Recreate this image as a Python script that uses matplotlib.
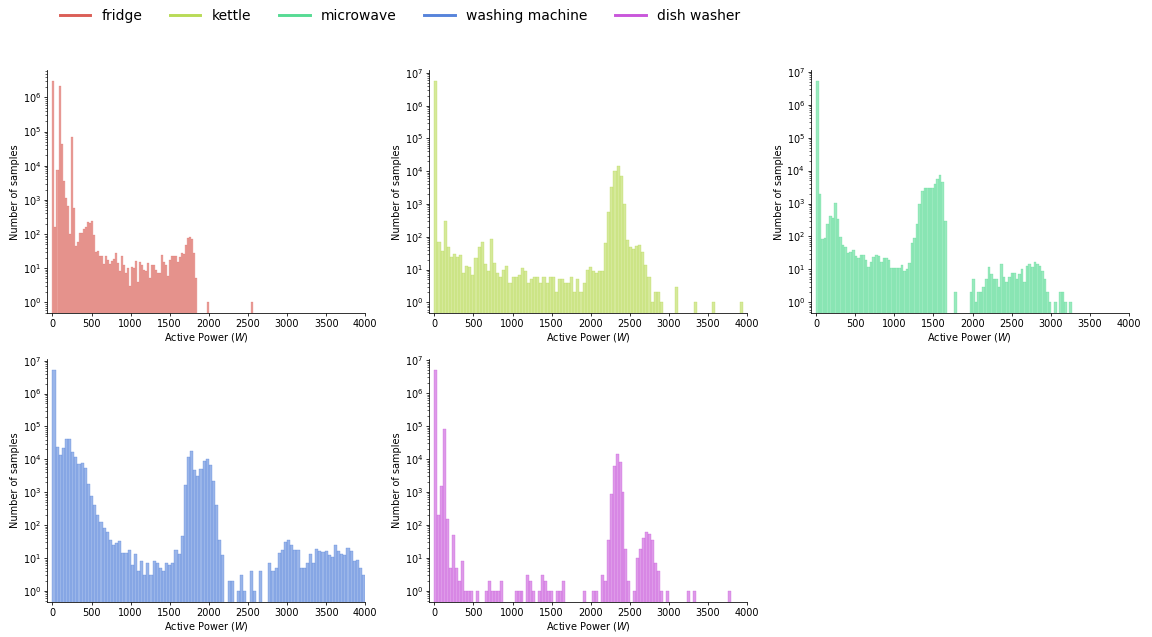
import numpy as np
import matplotlib
matplotlib.use("Agg")
import matplotlib.pyplot as plt
import seaborn as sns
from matplotlib.colors import to_rgba
from matplotlib.lines import Line2D

appliances = ["fridge", "kettle", "microwave", "washing machine", "dish washer"]

# every histogram uses 100 equal bins from 0 W up to the appliance's max reading
max_power = [2570, 3950, 3270, 4000, 3800]

fridge_counts = [
    3e6, 160, 7500, 2.2e6, 43000, 3500, 1100, 650, 100, 70000,
    580, 45, 58, 110, 110, 140, 160, 220, 210, 240,
    95, 30, 32, 22, 22, 13, 22, 17, 13, 16,
    18, 28, 14, 8, 22, 12, 7, 10, 3, 11,
    10, 16, 4, 15, 12, 9, 8, 14, 5, 12,
    12, 9, 7, 7, 24, 15, 12, 6, 17, 22,
    22, 22, 15, 21, 28, 26, 48, 76, 81, 70,
    28, 5, 0, 0, 0, 0, 0, 1, 0, 0,
    0, 0, 0, 0, 0, 0, 0, 0, 0, 0,
    0, 0, 0, 0, 0, 0, 0, 0, 0, 1,
]

kettle_counts = [
    5.6e6, 69, 37, 300, 49, 24, 30, 24, 28, 8,
    13, 12, 7, 22, 49, 69, 15, 9, 85, 16,
    8, 6, 10, 13, 4, 6, 6, 7, 11, 9,
    4, 5, 6, 6, 4, 6, 4, 6, 6, 2,
    5, 5, 4, 4, 6, 2, 5, 2, 4, 10,
    12, 9, 8, 9, 9, 64, 560, 3300, 10000, 14000,
    7000, 1000, 80, 49, 42, 52, 56, 34, 14, 6,
    1, 2, 2, 1, 0, 0, 0, 0, 3, 0,
    0, 0, 0, 0, 1, 0, 0, 0, 0, 0,
    1, 0, 0, 0, 0, 0, 0, 0, 0, 1,
]

microwave_counts = [
    5.2e6, 2000, 85, 91, 245, 430, 370, 1070, 350, 98,
    56, 49, 32, 34, 39, 26, 22, 28, 28, 19,
    12, 17, 24, 28, 26, 17, 22, 22, 19, 11,
    11, 11, 11, 14, 9, 10, 16, 64, 91, 245,
    1000, 2450, 3000, 3000, 3000, 2900, 3800, 5700, 7600, 4400,
    300, 0, 0, 0, 2, 0, 0, 0, 0, 0,
    2, 5, 1, 2, 2, 3, 5, 12, 7, 5,
    5, 3, 15, 6, 4, 6, 8, 8, 5, 7,
    10, 4, 13, 15, 12, 17, 15, 13, 9, 5,
    2, 1, 0, 1, 0, 2, 2, 1, 0, 1,
]

washing_machine_counts = [
    5.3e6, 24000, 14000, 22000, 42000, 42000, 17000, 12000, 7300, 7800,
    5500, 1800, 770, 410, 200, 125, 81, 61, 35, 25,
    28, 33, 14, 14, 17, 6, 13, 4, 8, 3,
    7, 3, 8, 7, 5, 4, 7, 6, 7, 17,
    13, 46, 1660, 12000, 18000, 4800, 3100, 5100, 9000, 10000,
    6800, 2200, 410, 35, 12, 0, 2, 2, 0, 1,
    3, 1, 0, 4, 1, 0, 4, 0, 0, 7,
    4, 5, 14, 17, 30, 35, 25, 17, 17, 5,
    5, 7, 13, 7, 19, 16, 15, 16, 12, 11,
    25, 16, 13, 12, 20, 16, 8, 9, 5, 3,
]

dish_washer_counts = [
    5.1e6, 200, 1550, 83000, 155, 5, 48, 5, 2, 8,
    1, 1, 1, 0, 1, 0, 0, 1, 2, 1,
    1, 1, 2, 0, 0, 0, 0, 1, 1, 1,
    0, 3, 2, 1, 0, 1, 3, 2, 1, 1,
    0, 1, 1, 2, 0, 0, 0, 0, 0, 0,
    1, 0, 0, 1, 1, 0, 3, 2, 34, 890,
    6300, 14500, 8300, 1000, 19, 2, 0, 1, 10, 19,
    41, 63, 55, 36, 7, 4, 1, 0, 1, 0,
    0, 0, 0, 0, 0, 1, 0, 1, 0, 0,
    0, 0, 0, 0, 0, 0, 0, 0, 0, 1,
]

all_counts = [fridge_counts, kettle_counts, microwave_counts,
              washing_machine_counts, dish_washer_counts]

colors = sns.color_palette("hls", len(appliances))

dpi = 70
fig, axes = plt.subplots(2, 3, figsize=(1152 / dpi, 637 / dpi), dpi=dpi)
fig.subplots_adjust(left=0.0408, right=0.98, top=0.89, bottom=0.055,
                    wspace=0.2, hspace=0.186)
axes = axes.flatten()

for ax, counts, top, color in zip(axes, all_counts, max_power, colors):
    n_bins = len(counts)
    width = top / n_bins
    lefts = np.arange(n_bins) * width
    ax.set_yscale("log")
    ax.set_xlim(-70, 4000)

    # thin outline of the same hue, 10% of the bin width in points
    x0, x1 = ax.transData.transform([[0, 1], [width, 1]])[:, 0]
    lw = min(0.1 * (x1 - x0) * 72 / dpi, 1.0)
    ax.bar(lefts, counts, width=width, align="edge",
           facecolor=to_rgba(color, 0.6), edgecolor=color, linewidth=lw)

    ax.set_xlim(-70, 4000)
    ax.set_xticks(np.arange(0, 4001, 500))
    ax.tick_params(axis="both", which="major", length=3, pad=3)
    ax.set_xlabel("Active Power ($W$)", labelpad=2)
    ax.set_ylabel("Number of samples", labelpad=3)
    sns.despine(ax=ax)

axes[5].remove()

handles = [Line2D([], [], color=c, lw=3) for c in colors]
fig.legend(handles, appliances, loc="upper left", ncol=5, frameon=False,
           fontsize=14.3, handlelength=2.2, bbox_to_anchor=(0.0408, 1.006))

fig.savefig("out.png", dpi=dpi)
